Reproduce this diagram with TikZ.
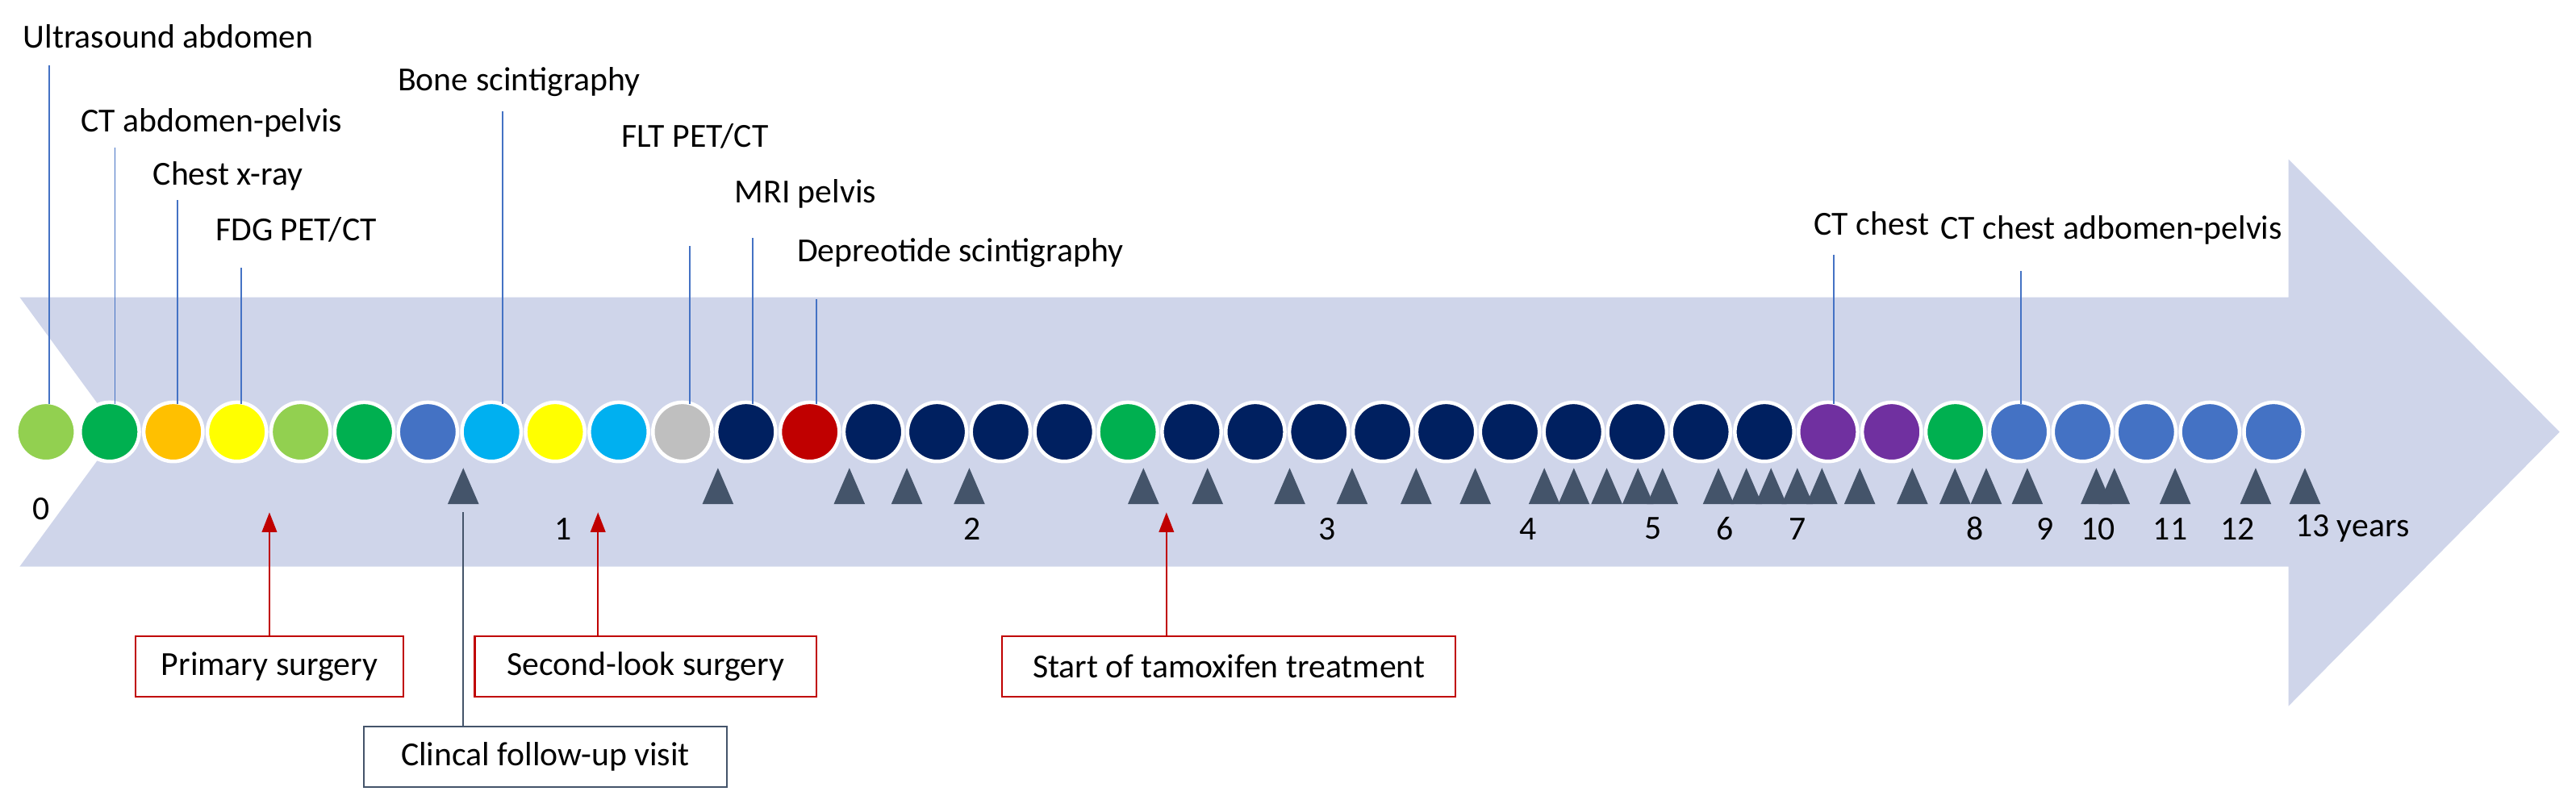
\documentclass[tikz,border=0pt]{standalone}
\usepackage{fontspec}
\setmainfont{Carlito}
\usetikzlibrary{arrows.meta}
\definecolor{band}{HTML}{CFD5EA}
\definecolor{lgreen}{HTML}{92D050}
\definecolor{dgreen}{HTML}{00B050}
\definecolor{orng}{HTML}{FFC000}
\definecolor{yell}{HTML}{FFFF00}
\definecolor{mblue}{HTML}{4472C4}
\definecolor{cyan2}{HTML}{00B0F0}
\definecolor{gry}{HTML}{BFBFBF}
\definecolor{navy}{HTML}{002060}
\definecolor{dred}{HTML}{C00000}
\definecolor{purp}{HTML}{7030A0}
\definecolor{slate}{HTML}{44546A}
\begin{document}
\begin{tikzpicture}[x=1pt,y=-1pt,
  font=\fontsize{20.5}{24}\selectfont,
  dot/.style={circle,draw=white,line width=2.2pt,minimum size=36pt,inner sep=0pt},
  lbl/.style={anchor=west,inner sep=0pt},
  lead/.style={mblue,line width=0.9pt},
  tri/.style={fill=slate},
  yr/.style={inner sep=0pt},
  rbox/.style={draw=dred,line width=1pt,minimum height=37pt,inner sep=0pt},
  gbox/.style={draw=slate,line width=1pt,minimum height=37pt,inner sep=0pt},
  rarr/.style={dred,line width=1.2pt,-{Triangle[length=12pt,width=9pt]}}]
\useasboundingbox (0,0) rectangle (1568,492);
% big arrow
\fill[band] (12,181) -- (1393,181) -- (1393,97) -- (1558,263) -- (1393,430) -- (1393,345) -- (12,345) -- (72,263) -- cycle;
% circles
\foreach \c [count=\i from 0] in {lgreen,dgreen,orng,yell,lgreen,dgreen,mblue,cyan2,yell,cyan2,gry,navy,dred,navy,navy,navy,navy,dgreen,navy,navy,navy,navy,navy,navy,navy,navy,navy,navy,purp,purp,dgreen,mblue,mblue,mblue,mblue,mblue}{
  \node[dot,fill=\c] (c\i) at ({28+38.74*\i},263) {};
}
% labels
\node[lbl] (l0) at (14,22) {Ultrasound abdomen};
\node[lbl] (l1) at (49,75) {CT abdomen-pelvis};
\node[lbl] (l2) at (93,107) {Chest x-ray};
\node[lbl] (l3) at (131,140) {FDG PET/CT};
\node[lbl] (l7) at (242,50) {Bone scintigraphy};
\node[lbl] (l11) at (378,83) {FLT PET/CT};
\node[lbl] (l12) at (447,118) {MRI pelvis};
\node[lbl] (l13) at (485,154) {Depreotide scintigraphy};
\node[lbl] (l28) at (1104,136) {CT chest};
\node[lbl] (l31) at (1181,140) {CT chest adbomen-pelvis};
\coordinate (t0) at (30,40);
\coordinate (t1) at (70,90);
\coordinate (t2) at (108,122);
\coordinate (t3) at (147,163);
\coordinate (t7) at (306,68);
\coordinate (t11) at (420,150);
\coordinate (t12) at (458,145);
\coordinate (t13) at (497,182);
\coordinate (t28) at (1116,155);
\coordinate (t31) at (1230,165);
\foreach \i/\x in {0/30,1/70,2/108,3/147,7/306,11/420,12/458,13/497,28/1116,31/1230}{
  \draw[lead] (t\i) -- (\x,246);
}
% triangles
\foreach \x in {282,437,517,552,590,696,735,785,823,862,898,940,958,978,997,1012,1046,1063,1078,1094,1109,1132,1164,1190,1209,1234,1276,1287,1324,1373,1403}{
  \fill[tri] (\x,285) -- (\x+9.5,307) -- (\x-9.5,307) -- cycle;
}
% year numbers
\foreach \x/\y/\t in {25/310/0,343/322/1,592/322/2,808/322/3,930/322/4,1006/322/5,1050/322/6,1094/322/7,1202/322/8,1245/322/9,1277/322/10,1321/322/11,1362/322/12}{
  \node[yr] at (\x,\y) {\t};
}
\node[lbl] (yrs) at (1397,322) {13 years};
% boxes
\node[rbox,minimum width=163pt] (ps) at (164,406) {Primary surgery};
\node[rbox,minimum width=208pt] (sl) at (393,406) {Second-look surgery};
\node[rbox,minimum width=276pt] (st) at (748,406) {Start of tamoxifen treatment};
\node[gbox,minimum width=221pt] (cf) at (332,461) {Clincal follow-up visit};
\coordinate (a1) at (164,312);
\coordinate (a2) at (364,312);
\coordinate (a3) at (710,312);
\coordinate (g1) at (282,312);
\draw[rarr] (ps.north -| a1) -- (a1);
\draw[rarr] (sl.north -| a2) -- (a2);
\draw[rarr] (st.north -| a3) -- (a3);
\draw[slate,line width=0.8pt] (cf.north -| g1) -- (g1);
\end{tikzpicture}
\end{document}
